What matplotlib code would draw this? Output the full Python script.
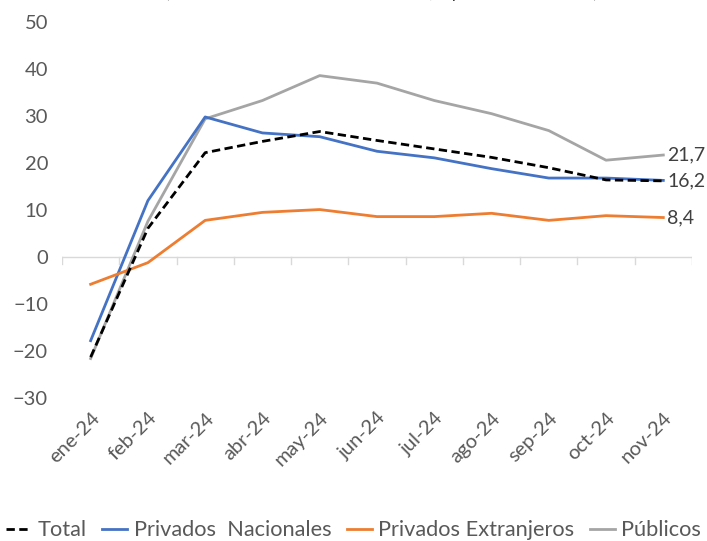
import matplotlib
matplotlib.use("Agg")
import matplotlib.pyplot as plt

plt.rcParams['font.family'] = ['Lato', 'DejaVu Sans']

meses = ['ene-24', 'feb-24', 'mar-24', 'abr-24', 'may-24', 'jun-24',
         'jul-24', 'ago-24', 'sep-24', 'oct-24', 'nov-24']

total = [-21.3, 6.1, 22.2, 24.6, 26.7, 24.8, 23.0, 21.2, 19.0, 16.4, 16.2]
nacionales = [-17.8, 12.0, 29.8, 26.4, 25.6, 22.5, 21.1, 18.8, 16.8, 16.8, 16.3]
extranjeros = [-5.8, -1.2, 7.8, 9.5, 10.1, 8.6, 8.6, 9.3, 7.8, 8.8, 8.4]
publicos = [-21.6, 7.6, 29.4, 33.3, 38.6, 37.0, 33.3, 30.5, 26.9, 20.6, 21.7]

etiquetas = ['21,7', '16,2', '8,4']
valores_etiq = [publicos[-1], total[-1], extranjeros[-1]]

fig = plt.figure(figsize=(7.07, 5.41), dpi=100)
ax = fig.add_axes([0.0877, 0.2643, 0.891, 0.695])

x = list(range(len(meses)))
ax.plot(x, total, color='black', lw=2, ls=(0, (3, 1.6)), label='Total', zorder=5)
ax.plot(x, nacionales, color='#4472C4', lw=2, label='Privados  Nacionales', zorder=3)
ax.plot(x, extranjeros, color='#ED7D31', lw=2, label='Privados Extranjeros', zorder=3)
ax.plot(x, publicos, color='#A5A5A5', lw=2, label='Públicos', zorder=2)

for txt, v in zip(etiquetas, valores_etiq):
    ax.annotate(txt, (x[-1], v), xytext=(3, 0), textcoords='offset points',
                va='center', ha='left', fontsize=14, color='#404040')

ax.set_xlim(-0.5, len(meses) - 0.5)
ax.set_ylim(-30, 50)
ax.set_yticks(range(-30, 51, 10))
ax.tick_params(axis='y', length=0, labelsize=14.5, labelcolor='#595959', pad=10)

for s in ['top', 'right', 'left', 'bottom']:
    ax.spines[s].set_visible(False)
ax.axhline(0, color='#D9D9D9', lw=1, zorder=1)
for b in range(len(meses) + 1):
    ax.plot([b - 0.5, b - 0.5], [0, -1.4], color='#D9D9D9', lw=1, zorder=1)

ax.set_xticks(x)
ax.set_xticklabels(meses, rotation=45, ha='right', rotation_mode='anchor',
                   fontsize=14.5, color='#595959')
ax.tick_params(axis='x', length=0, pad=8)

fig.text(0.54, 1 + 2 / 541, '(tasa de variación interanual en %, a precios corrientes)',
         ha='center', va='baseline', fontsize=13, color='#404040')

fig.legend(loc='lower center', bbox_to_anchor=(0.5, -0.035), ncol=4, frameon=False,
           fontsize=15.7, handlelength=1.15, handletextpad=0.3, columnspacing=0.7,
           labelcolor='#595959')

fig.savefig('out.png', dpi=100)
